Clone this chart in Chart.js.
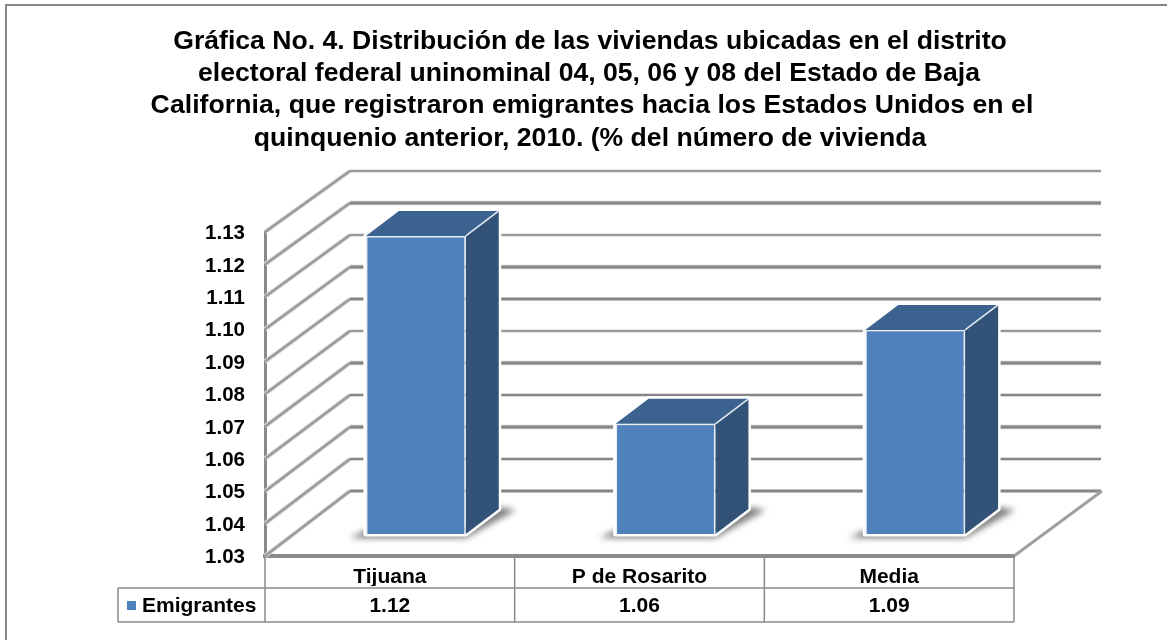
<!DOCTYPE html>
<html lang="es">
<head>
  <meta charset="UTF-8" />
  <title>Gráfica No. 4</title>
  <script src="https://cdn.jsdelivr.net/npm/chart.js"></script>
  <style>
    html, body { margin: 0; padding: 0; background: #fff; overflow: hidden; }
    #wrap { position: absolute; left: 0; top: 0; width: 1167px; height: 640px; }
    #frame { position: absolute; left: 5px; top: 4px; right: 0; bottom: 0; border-left: 2px solid #868686; border-top: 2px solid #868686; }
    canvas { position: absolute; left: 0; top: 0; }
  </style>
</head>
<body>
  <div id="wrap">
    <div id="frame"></div>
    <canvas id="chart" width="1167" height="640"></canvas>
  </div>

  <script>
    const titleLines = [
      'Gráfica No. 4. Distribución de las viviendas ubicadas en el distrito',
      'electoral federal uninominal 04, 05, 06 y 08 del Estado de Baja',
      'California, que registraron emigrantes hacia los Estados Unidos en el',
      'quinquenio anterior, 2010. (% del número de vivienda'
    ];
    const categories = ['Tijuana', 'P de Rosarito', 'Media'];
    const seriesName = 'Emigrantes';
    const emigrantes = [1.122, 1.064, 1.093];
    const tableValues = ['1.12', '1.06', '1.09'];
    const yTicks = [1.03, 1.04, 1.05, 1.06, 1.07, 1.08, 1.09, 1.10, 1.11, 1.12, 1.13];
    // line weights on the back wall, the scan of the chart makes them uneven
    const backWidths = [2.5, 2, 3, 2, 3, 1.5, 2.5, 3, 1.5, 3, 1.5];
    // the third title line is set wider in the reference
    const titleCenters = [590, 589, 592, 590];
    const titleSpacing = ['0px', '0px', '0.05px', '0px'];

    const FONT = '"Liberation Sans", Arial, sans-serif';
    const GREY = '#8a8a8a';
    const FRONT = '#4f81bd', TOP = '#3c6290', SIDE = '#325278';
    const wallDx = 87, wallDy = -65, backSpan = 320;   // depth of the 3d box
    const barDx = 26, barDy = -22;                     // bars stand inside the box
    const depthDx = 33, depthDy = -25;                 // depth of a bar

    function line(ctx, x1, y1, x2, y2, w, color) {
      ctx.beginPath();
      ctx.moveTo(x1, y1);
      ctx.lineTo(x2, y2);
      ctx.lineWidth = w;
      ctx.strokeStyle = color;
      ctx.stroke();
    }

    function poly(ctx, pts) {
      ctx.beginPath();
      pts.forEach((p, i) => i ? ctx.lineTo(p[0], p[1]) : ctx.moveTo(p[0], p[1]));
      ctx.closePath();
    }

    const box3d = {
      id: 'box3d',
      // walls, floor and the shadows
      beforeDatasetsDraw(chart) {
        const { ctx, chartArea: a, scales: { y } } = chart;
        const y0 = y.getPixelForValue(yTicks[0]);
        const yTop = y.getPixelForValue(yTicks[yTicks.length - 1]);
        const backY = v => y0 + wallDy + (y.getPixelForValue(v) - y0) * backSpan / (y0 - yTop);
        ctx.save();
        ctx.lineCap = 'butt';
        yTicks.forEach((v, i) => {
          const fy = y.getPixelForValue(v), by = backY(v), w = backWidths[i];
          line(ctx, a.left, fy, a.left + wallDx - 2, by, 4.5, '#dcdcdc');
          line(ctx, a.left, fy, a.left + wallDx - 2, by, 2.5, '#9a9a9a');
          line(ctx, a.left + wallDx - 2, by, a.right + wallDx, by, w + 1.5, '#d0d0d0');
          line(ctx, a.left + wallDx - 2, by, a.right + wallDx, by, w, '#868686');
        });
        line(ctx, a.right, y0, a.right + wallDx + 1, y0 + wallDy, 3, '#a0a0a0');

        // shadows on the floor
        const meta = chart.getDatasetMeta(0);
        ctx.filter = 'blur(3px)';
        ctx.fillStyle = '#7d7d7d';
        meta.data.forEach(bar => {
          const l = bar.x - bar.width / 2 + barDx, r = bar.x + bar.width / 2 + barDx, b = y0 + barDy;
          poly(ctx, [[l - 16, b + 4], [r, b + 4], [r + depthDx + 17, b + depthDy + 1], [r + depthDx, b + depthDy - 2], [r, b - 4], [l, b - 4]]);
          ctx.fill();
        });
        ctx.restore();
      },
      // top and side of the bar, the front comes from the bar element
      beforeDatasetDraw(chart) {
        const { ctx, scales: { y } } = chart;
        const y0 = y.getPixelForValue(yTicks[0]);
        ctx.save();
        ctx.lineJoin = 'round';
        chart.getDatasetMeta(0).data.forEach(bar => {
          const l = bar.x - bar.width / 2 + barDx, r = bar.x + bar.width / 2 + barDx;
          const t = bar.y + barDy, b = y0 + barDy;
          const side = [[r, t], [r + depthDx, t + depthDy], [r + depthDx, b + depthDy], [r, b]];
          const top = [[l, t], [l + depthDx, t + depthDy], [r + depthDx, t + depthDy], [r, t]];
          poly(ctx, [[l, t], [l + depthDx, t + depthDy], [r + depthDx, t + depthDy], [r + depthDx, b + depthDy], [r, b], [l, b]]);
          ctx.strokeStyle = '#fff';
          ctx.lineWidth = 5;
          ctx.stroke();
          poly(ctx, side);
          ctx.fillStyle = SIDE;
          ctx.fill();
          poly(ctx, top);
          ctx.fillStyle = TOP;
          ctx.fill();
          line(ctx, r, t, r + depthDx, t + depthDy, 1.5, '#e4ebf3');
        });
        ctx.restore();
        ctx.save();
        ctx.translate(barDx, barDy);
      },
      afterDatasetDraw(chart) {
        chart.ctx.restore();
      },
      // title lines and the data table under the chart
      afterDraw(chart) {
        const { ctx, chartArea: a, scales: { x } } = chart;
        const row1 = 588, row2 = 622, tableLeft = 118;
        const step = (a.right - a.left) / categories.length;
        ctx.save();
        ctx.fillStyle = '#000';
        ctx.textAlign = 'center';
        ctx.textBaseline = 'middle';
        ctx.font = 'bold 26.6px ' + FONT;
        titleLines.forEach((t, i) => {
          ctx.letterSpacing = titleSpacing[i];
          ctx.fillText(t, titleCenters[i], 41.5 + i * 32.3);
        });
        ctx.letterSpacing = '0px';

        line(ctx, a.left, a.bottom, a.left, row2, 1.5, GREY);
        line(ctx, tableLeft, row1, a.right, row1, 1.5, GREY);
        line(ctx, tableLeft, row2, a.right, row2, 1.5, GREY);
        line(ctx, tableLeft, row1, tableLeft, row2, 1.5, GREY);
        categories.forEach((c, i) => line(ctx, a.left + step * (i + 1), a.bottom, a.left + step * (i + 1), row2, 1.5, GREY));

        ctx.fillStyle = FRONT;
        ctx.fillRect(127, 601, 9, 9);
        ctx.fillStyle = '#000';
        ctx.font = 'bold 21px ' + FONT;
        ctx.textAlign = 'left';
        ctx.fillText(seriesName, 142, 606);
        ctx.textAlign = 'center';
        tableValues.forEach((v, i) => ctx.fillText(v, x.getPixelForValue(i), 606));
        ctx.restore();
      }
    };

    new Chart(document.getElementById('chart'), {
      type: 'bar',
      data: {
        labels: categories,
        datasets: [{
          label: seriesName,
          data: emigrantes,
          base: yTicks[0],
          backgroundColor: FRONT,
          borderColor: '#e6edf5',
          borderWidth: 1.5,
          categoryPercentage: 0.4,
          barPercentage: 1,
          clip: false
        }]
      },
      options: {
        responsive: false,
        animation: false,
        layout: { padding: { left: 165, right: 153, top: 232, bottom: 54 } },
        plugins: {
          legend: { display: false },
          tooltip: { enabled: false },
          title: { display: false }
        },
        scales: {
          x: {
            afterFit(scale) { scale.height = 30; },
            grid: { display: false, drawTicks: false },
            border: { display: true, color: GREY, width: 4 },
            ticks: { color: '#000', font: { family: FONT, size: 21, weight: 'bold' }, padding: 9, maxRotation: 0 }
          },
          y: {
            min: 1.03,
            max: 1.13,
            afterFit(scale) { scale.width = 100; },
            afterBuildTicks(scale) { scale.ticks = yTicks.map(v => ({ value: v })); },
            grid: { display: false, drawTicks: false },
            border: { display: true, color: GREY, width: 3 },
            ticks: {
              color: '#000',
              padding: 20,
              labelOffset: 1.5,
              font: { family: FONT, size: 20.5, weight: 'bold' },
              callback: v => v.toFixed(2)
            }
          }
        }
      },
      plugins: [box3d]
    });
  </script>
</body>
</html>
